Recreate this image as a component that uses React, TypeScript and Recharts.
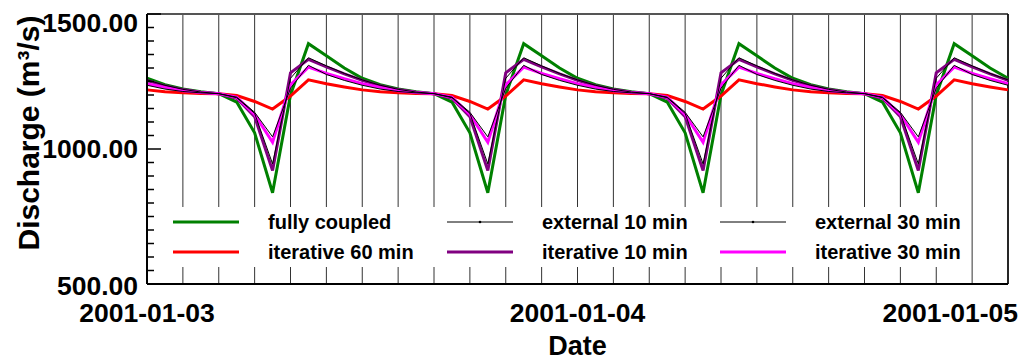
import React from 'react';
import { LineChart, Line, XAxis, YAxis, CartesianGrid, Legend, ReferenceLine } from 'recharts';

// hours since 2001-01-03 00:00
const hours = [
  0, 1, 2, 3, 4, 5, 6, 7, 8, 9, 10, 11, 12, 13, 14, 15, 16, 17, 18, 19, 20, 21, 22, 23, 24,
  25, 26, 27, 28, 29, 30, 31, 32, 33, 34, 35, 36, 37, 38, 39, 40, 41, 42, 43, 44, 45, 46, 47, 48,
];

const fullyCoupled = [
  1262, 1238, 1222, 1212,
  1205, 1174, 1060, 838, 1200, 1390, 1345, 1300, 1262, 1238, 1222, 1212,
  1205, 1174, 1060, 838, 1200, 1390, 1345, 1300, 1262, 1238, 1222, 1212,
  1205, 1174, 1060, 838, 1200, 1390, 1345, 1300, 1262, 1238, 1222, 1212,
  1205, 1174, 1060, 838, 1200, 1390, 1345, 1300, 1262,
];
const external10 = [
  1256, 1236, 1221, 1211,
  1205, 1190, 1132, 945, 1262, 1338, 1308, 1280, 1256, 1236, 1221, 1211,
  1205, 1190, 1132, 945, 1262, 1338, 1308, 1280, 1256, 1236, 1221, 1211,
  1205, 1190, 1132, 945, 1262, 1338, 1308, 1280, 1256, 1236, 1221, 1211,
  1205, 1190, 1132, 945, 1262, 1338, 1308, 1280, 1256,
];
const external30 = [
  1236, 1222, 1213, 1208,
  1205, 1192, 1136, 1045, 1225, 1310, 1276, 1254, 1236, 1222, 1213, 1208,
  1205, 1192, 1136, 1045, 1225, 1310, 1276, 1254, 1236, 1222, 1213, 1208,
  1205, 1192, 1136, 1045, 1225, 1310, 1276, 1254, 1236, 1222, 1213, 1208,
  1205, 1192, 1136, 1045, 1225, 1310, 1276, 1254, 1236,
];
const iterative60 = [
  1219, 1212, 1208, 1206,
  1205, 1198, 1176, 1148, 1196, 1256, 1242, 1230, 1219, 1212, 1208, 1206,
  1205, 1198, 1176, 1148, 1196, 1256, 1242, 1230, 1219, 1212, 1208, 1206,
  1205, 1198, 1176, 1148, 1196, 1256, 1242, 1230, 1219, 1212, 1208, 1206,
  1205, 1198, 1176, 1148, 1196, 1256, 1242, 1230, 1219,
];
const iterative10 = [
  1254, 1234, 1220, 1210,
  1205, 1188, 1120, 920, 1282, 1332, 1304, 1278, 1254, 1234, 1220, 1210,
  1205, 1188, 1120, 920, 1282, 1332, 1304, 1278, 1254, 1234, 1220, 1210,
  1205, 1188, 1120, 920, 1282, 1332, 1304, 1278, 1254, 1234, 1220, 1210,
  1205, 1188, 1120, 920, 1282, 1332, 1304, 1278, 1254,
];
const iterative30 = [
  1242, 1228, 1216, 1209,
  1205, 1192, 1128, 1025, 1238, 1303, 1280, 1260, 1242, 1228, 1216, 1209,
  1205, 1192, 1128, 1025, 1238, 1303, 1280, 1260, 1242, 1228, 1216, 1209,
  1205, 1192, 1128, 1025, 1238, 1303, 1280, 1260, 1242, 1228, 1216, 1209,
  1205, 1192, 1128, 1025, 1238, 1303, 1280, 1260, 1242,
];

const gridTicks = [0, 2, 4, 6, 8, 10, 12, 14, 16, 18, 20, 22, 24, 26, 28, 30, 32, 34, 36, 38, 40, 42, 44, 46, 48];
const dateTicks = [0, 24, 48];
const dateLabels = ['2001-01-03', '2001-01-04', '2001-01-05'];

const yTicks = [
  500, 550, 600, 650, 700, 750, 800, 850, 900, 950, 1000,
  1050, 1100, 1150, 1200, 1250, 1300, 1350, 1400, 1450, 1500,
];
const yMajorTicks = [500, 1000, 1500];
const yMajorLabels = ['500.00', '1000.00', '1500.00'];

const FONT = '"Liberation Sans", Arial, sans-serif';

const data = hours.map((h, i) => ({
  h,
  fully: fullyCoupled[i],
  ext10: external10[i],
  ext30: external30[i],
  it60: iterative60[i],
  it10: iterative10[i],
  it30: iterative30[i],
}));

// legend is laid out as 2 rows x 3 columns
const legendOrder = ['fully', 'ext10', 'ext30', 'it60', 'it10', 'it30'];
const thinKeys = ['ext10', 'ext30'];

const XTick = (props: any) => {
  const { x, y, payload } = props;
  const i = dateTicks.indexOf(payload.value);
  if (i < 0) return <g />;
  const last = i === dateTicks.length - 1;
  return (
    <text
      x={last ? x + 10 : x}
      y={y + 38}
      textAnchor={last ? 'end' : 'middle'}
      fontFamily={FONT}
      fontWeight="bold"
      fontSize={26.5}
      fill="#000"
    >
      {dateLabels[i]}
    </text>
  );
};

const YTick = (props: any) => {
  const { x, y, payload } = props;
  const i = yMajorTicks.indexOf(payload.value);
  const major = i >= 0;
  let ly = y;
  if (i === yMajorTicks.length - 1) ly = y + 9;
  if (i === 0) ly = y + 2;
  return (
    <g>
      <line x1={x} x2={x + (major ? 14 : 7)} y1={y} y2={y} stroke="#000" strokeWidth={1.5} />
      {major && (
        <text
          x={x - 9}
          y={ly}
          dominantBaseline="central"
          textAnchor="end"
          fontFamily={FONT}
          fontWeight="bold"
          fontSize={26.5}
          fill="#000"
        >
          {yMajorLabels[i]}
        </text>
      )}
    </g>
  );
};

const YTitle = () => (
  <text
    transform="translate(28,133) rotate(-90)"
    textAnchor="middle"
    dominantBaseline="central"
    fontFamily={FONT}
    fontWeight="bold"
    fontSize={30}
    fill="#000"
  >
    Discharge (m³/s)
  </text>
);

const XTitle = (props: any) => {
  const vb = props.viewBox || { x: 147, width: 861 };
  return (
    <text
      x={vb.x + vb.width / 2}
      y={355}
      textAnchor="middle"
      fontFamily={FONT}
      fontWeight="bold"
      fontSize={27}
      fill="#000"
    >
      Date
    </text>
  );
};

const LegendBox = (props: any) => {
  const entries = props.payload || [];
  const byKey: Record<string, any> = {};
  entries.forEach((e: any) => {
    byKey[e.dataKey] = e;
  });
  return (
    <div
      style={{
        display: 'grid',
        gridTemplateColumns: '274px 273px 263px',
        gridAutoRows: '30px',
        background: '#fff',
        fontFamily: FONT,
        fontWeight: 'bold',
        fontSize: 20,
        color: '#000',
      }}
    >
      {legendOrder.map((k) => {
        const e = byKey[k];
        if (!e) return <div key={k} />;
        const thin = thinKeys.includes(k);
        return (
          <div key={k} style={{ display: 'flex', alignItems: 'center', paddingLeft: 15 }}>
            <svg width={66} height={10} style={{ marginRight: 29, flex: 'none' }}>
              <line x1={0} x2={66} y1={5} y2={5} stroke={e.color} strokeWidth={thin ? 1 : 3} />
              {thin && <circle cx={33} cy={5} r={1.3} fill={e.color} />}
            </svg>
            <span style={{ whiteSpace: 'nowrap' }}>{e.value}</span>
          </div>
        );
      })}
    </div>
  );
};

export default function App() {
  return (
    <div style={{ position: 'absolute', left: 0, top: 0, width: 1024, height: 360, background: '#fff' }}>
      <LineChart width={1024} height={360} data={data} margin={{ top: 14, right: 16, bottom: 0, left: 0 }}>
        <CartesianGrid horizontal={false} stroke="#333" strokeWidth={1} />
        <XAxis
          dataKey="h"
          type="number"
          domain={[0, 48]}
          ticks={gridTicks}
          interval={0}
          tick={<XTick />}
          tickLine={false}
          tickSize={0}
          tickMargin={0}
          height={76}
          axisLine={{ stroke: '#000', strokeWidth: 2 }}
          label={<XTitle />}
        />
        <YAxis
          type="number"
          domain={[500, 1500]}
          ticks={yTicks}
          interval={0}
          tick={<YTick />}
          tickLine={false}
          tickSize={0}
          tickMargin={0}
          width={147}
          axisLine={{ stroke: '#000', strokeWidth: 2 }}
          label={<YTitle />}
        />
        <ReferenceLine y={1500} stroke="#555" strokeWidth={2} />
        <ReferenceLine x={48} stroke="#000" strokeWidth={1.5} />
        <Legend
          layout="horizontal"
          verticalAlign="middle"
          align="center"
          content={<LegendBox />}
          wrapperStyle={{ left: 158, top: 207, width: 810, height: 61 }}
        />
        <Line dataKey="fully" name="fully coupled" stroke="#008000" strokeWidth={3} dot={false} isAnimationActive={false} />
        <Line dataKey="it60" name="iterative 60 min" stroke="#ff0000" strokeWidth={3} dot={false} isAnimationActive={false} />
        <Line dataKey="it10" name="iterative 10 min" stroke="#800080" strokeWidth={3} dot={false} isAnimationActive={false} />
        <Line dataKey="it30" name="iterative 30 min" stroke="#ff00ff" strokeWidth={3} dot={false} isAnimationActive={false} />
        <Line dataKey="ext10" name="external 10 min" stroke="#000" strokeWidth={1} dot={false} isAnimationActive={false} />
        <Line dataKey="ext30" name="external 30 min" stroke="#000" strokeWidth={1} dot={false} isAnimationActive={false} />
      </LineChart>
    </div>
  );
}
